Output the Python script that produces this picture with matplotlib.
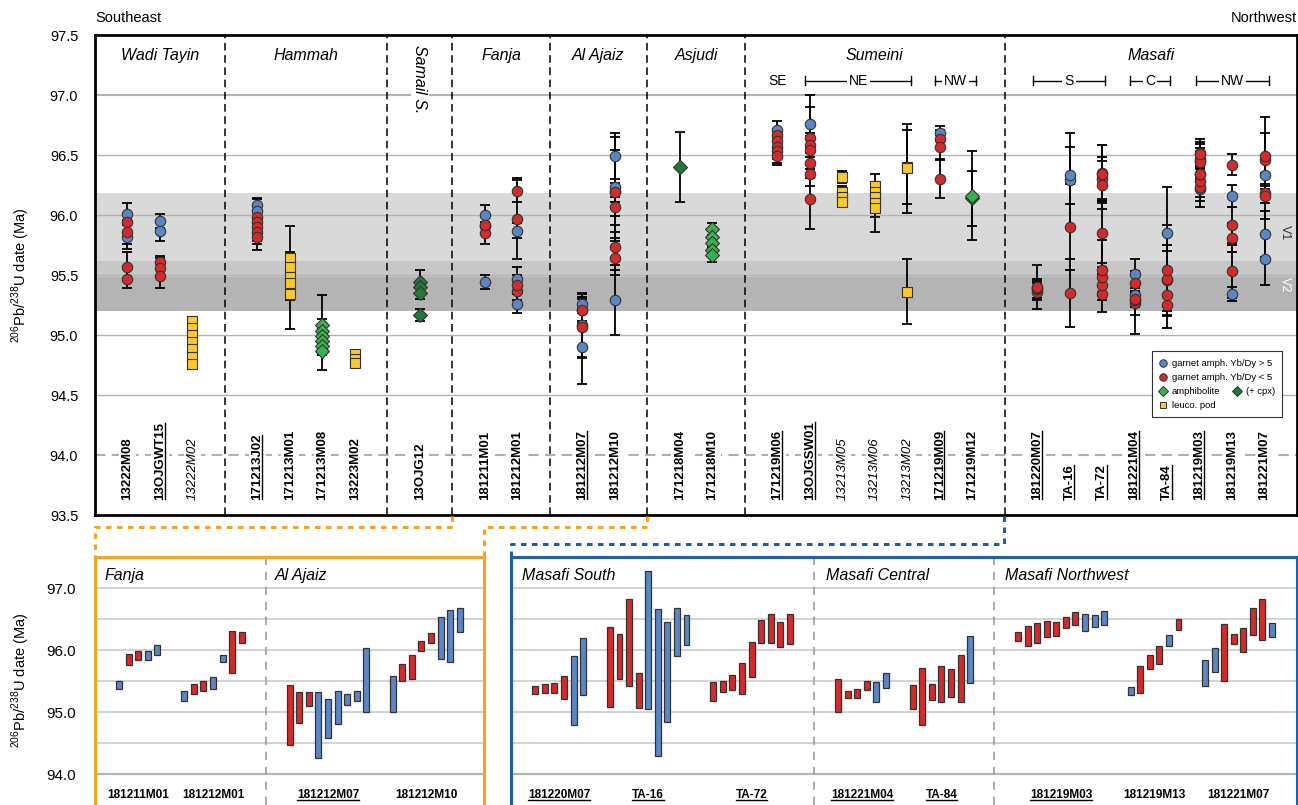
import numpy as np
import matplotlib.pyplot as plt
from matplotlib.lines import Line2D
from matplotlib.patches import Rectangle

plt.rcParams['font.family'] = ['Liberation Sans', 'DejaVu Sans']
plt.rcParams['mathtext.fontset'] = 'custom'
plt.rcParams['mathtext.rm'] = 'Liberation Sans'

# U-Pb dates per sample: (type, date Ma, 2s)
# b = garnet amph. Yb/Dy > 5, r = garnet amph. Yb/Dy < 5,
# g = amphibolite, c = amphibolite (+ cpx), y = leuco. pod
a_13222M08 = [("b", 96.01, 0.09), ("r", 95.94, 0.08), ("r", 95.86, 0.10),
              ("b", 95.82, 0.10), ("r", 95.57, 0.12), ("r", 95.47, 0.08)]
a_13OJGWT15 = [("b", 95.95, 0.06), ("b", 95.87, 0.09), ("r", 95.61, 0.05),
               ("r", 95.56, 0.08), ("r", 95.49, 0.10)]
a_13222M02 = [("y", 95.12, 0.03), ("y", 95.06, 0.03), ("y", 95.00, 0.03),
              ("y", 94.94, 0.03), ("y", 94.88, 0.04), ("y", 94.82, 0.04),
              ("y", 94.76, 0.04)]
a_171213J02 = [("b", 96.08, 0.06), ("b", 96.03, 0.10), ("r", 95.98, 0.10),
               ("r", 95.94, 0.10), ("r", 95.90, 0.12), ("r", 95.86, 0.10),
               ("r", 95.82, 0.11)]
a_171213M01 = [("y", 95.64, 0.05), ("y", 95.57, 0.05), ("y", 95.48, 0.43),
               ("y", 95.43, 0.05), ("y", 95.34, 0.05)]
a_171213M08 = [("g", 95.08, 0.25), ("g", 95.03, 0.10), ("g", 94.99, 0.08),
               ("g", 94.95, 0.10), ("g", 94.91, 0.08), ("g", 94.87, 0.16)]
a_13223M02 = [("y", 94.84, 0.03), ("y", 94.80, 0.04), ("y", 94.77, 0.04)]
a_13OJG12 = [("c", 95.44, 0.10), ("c", 95.40, 0.05), ("c", 95.35, 0.05),
             ("c", 95.17, 0.05)]
a_181211M01 = [("b", 95.44, 0.06), ("r", 95.85, 0.09), ("r", 95.92, 0.07),
               ("b", 95.91, 0.07), ("b", 96.00, 0.08)]
a_181212M01 = [("b", 95.26, 0.08), ("r", 95.37, 0.08), ("r", 95.42, 0.08),
               ("b", 95.47, 0.10), ("b", 95.87, 0.06), ("r", 95.97, 0.34),
               ("r", 96.20, 0.09)]
a_181212M07 = [("r", 94.96, 0.48), ("r", 95.07, 0.25), ("r", 95.21, 0.11),
               ("b", 94.80, 0.53), ("b", 94.90, 0.31), ("b", 95.08, 0.27),
               ("b", 95.21, 0.09), ("b", 95.26, 0.08), ("b", 95.52, 0.52)]
a_181212M10 = [("b", 95.29, 0.29), ("r", 95.64, 0.14), ("r", 95.73, 0.19),
               ("r", 96.07, 0.08), ("r", 96.19, 0.08), ("b", 96.20, 0.34),
               ("b", 96.23, 0.42), ("b", 96.49, 0.19)]
a_171218M04 = [("c", 96.40, 0.29)]
a_171218M10 = [("g", 95.88, 0.05), ("g", 95.82, 0.05), ("g", 95.77, 0.05),
               ("g", 95.71, 0.05), ("g", 95.67, 0.06)]
a_171219M06 = [("b", 96.71, 0.07), ("r", 96.67, 0.05), ("r", 96.62, 0.08),
               ("r", 96.57, 0.10), ("r", 96.53, 0.10), ("r", 96.49, 0.07)]
a_13OJGSW01 = [("b", 96.76, 0.24), ("r", 96.64, 0.26), ("r", 96.58, 0.10),
               ("r", 96.54, 0.12), ("r", 96.43, 0.12), ("r", 96.34, 0.10),
               ("r", 96.13, 0.25)]
a_13213M05 = [("y", 96.32, 0.05), ("y", 96.19, 0.05), ("y", 96.15, 0.05),
              ("y", 96.11, 0.04)]
a_13213M06 = [("y", 96.24, 0.10), ("y", 96.19, 0.08), ("y", 96.15, 0.10),
              ("y", 96.10, 0.12), ("y", 96.06, 0.20)]
a_13213M02 = [("y", 96.40, 0.31), ("y", 96.39, 0.37), ("y", 95.36, 0.27)]
a_171219M09 = [("b", 96.68, 0.06), ("r", 96.63, 0.08), ("r", 96.57, 0.10),
               ("r", 96.30, 0.16)]
a_171219M12 = [("c", 96.14, 0.23), ("g", 96.16, 0.37)]
a_181220M07 = [("r", 95.36, 0.07), ("r", 95.38, 0.07), ("r", 95.39, 0.08),
               ("r", 95.40, 0.18), ("b", 95.35, 0.55), ("b", 95.74, 0.46)]
a_TA16 = [("r", 95.73, 0.64), ("r", 95.90, 0.36), ("r", 96.12, 0.70),
          ("r", 95.35, 0.28), ("b", 96.16, 1.11), ("b", 95.48, 1.18),
          ("b", 95.65, 0.80), ("b", 96.29, 0.39), ("b", 96.33, 0.24)]
a_TA72 = [("r", 95.34, 0.15), ("r", 95.42, 0.09), ("r", 95.48, 0.12),
          ("r", 95.54, 0.25), ("r", 95.85, 0.28), ("r", 96.30, 0.18),
          ("r", 96.35, 0.23), ("r", 96.25, 0.20), ("r", 96.34, 0.24)]
a_181221M04 = [("r", 95.27, 0.26), ("r", 95.29, 0.06), ("r", 95.30, 0.07),
               ("r", 95.43, 0.07), ("b", 95.33, 0.16), ("b", 95.51, 0.12)]
a_TA84 = [("r", 95.25, 0.19), ("r", 95.25, 0.46), ("r", 95.33, 0.13),
          ("r", 95.46, 0.29), ("r", 95.47, 0.23), ("r", 95.54, 0.38),
          ("b", 95.85, 0.38)]
a_181219M03 = [("r", 96.22, 0.07), ("r", 96.23, 0.16), ("r", 96.28, 0.16),
               ("r", 96.34, 0.13), ("r", 96.34, 0.11), ("r", 96.44, 0.09),
               ("r", 96.51, 0.10), ("b", 96.45, 0.14), ("b", 96.47, 0.09),
               ("b", 96.52, 0.11)]
a_181219M13 = [("b", 95.34, 0.06), ("r", 95.53, 0.22), ("r", 95.81, 0.12),
               ("r", 95.92, 0.15), ("b", 96.16, 0.09), ("r", 96.42, 0.09)]
a_181221M07 = [("b", 95.63, 0.21), ("b", 95.84, 0.19), ("r", 95.96, 0.46),
               ("r", 96.18, 0.08), ("r", 96.16, 0.19), ("r", 96.46, 0.22),
               ("r", 96.49, 0.33), ("b", 96.33, 0.11)]

analyses = {
    "13222M08": a_13222M08, "13OJGWT15": a_13OJGWT15, "13222M02": a_13222M02,
    "171213J02": a_171213J02, "171213M01": a_171213M01, "171213M08": a_171213M08,
    "13223M02": a_13223M02, "13OJG12": a_13OJG12, "181211M01": a_181211M01,
    "181212M01": a_181212M01, "181212M07": a_181212M07, "181212M10": a_181212M10,
    "171218M04": a_171218M04, "171218M10": a_171218M10, "171219M06": a_171219M06,
    "13OJGSW01": a_13OJGSW01, "13213M05": a_13213M05, "13213M06": a_13213M06,
    "13213M02": a_13213M02, "171219M09": a_171219M09, "171219M12": a_171219M12,
    "181220M07": a_181220M07, "TA-16": a_TA16, "TA-72": a_TA72,
    "181221M04": a_181221M04, "TA-84": a_TA84, "181219M03": a_181219M03,
    "181219M13": a_181219M13, "181221M07": a_181221M07,
}

regions = ["Wadi Tayin", "Hammah", "Samail S.", "Fanja", "Al Ajaiz",
           "Asjudi", "Sumeini", "Masafi"]
region_samples = [
    ["13222M08", "13OJGWT15", "13222M02"],
    ["171213J02", "171213M01", "171213M08", "13223M02"],
    ["13OJG12"],
    ["181211M01", "181212M01"],
    ["181212M07", "181212M10"],
    ["171218M04", "171218M10"],
    ["171219M06", "13OJGSW01", "13213M05", "13213M06", "13213M02",
     "171219M09", "171219M12"],
    ["181220M07", "TA-16", "TA-72", "181221M04", "TA-84", "181219M03",
     "181219M13", "181221M07"],
]
underlined = {"13OJGWT15", "171213J02", "181212M07", "171219M06", "13OJGSW01",
              "171219M09", "181220M07", "TA-16", "TA-72", "181221M04", "TA-84",
              "181219M03"}
italic_samples = {"13222M02", "13213M05", "13213M06", "13213M02"}

# volcanic phases V1 / V2 (Ma)
v1_band = (95.48, 96.18)
v2_band = (95.20, 95.62)
max_2s_main = 0.45   # analyses shown in the overview panel

orange_samples = ["181211M01", "181212M01", "181212M07", "181212M10"]
blue_samples = ["181220M07", "TA-16", "TA-72", "181221M04", "TA-84",
                "181219M03", "181219M13", "181221M07"]

# ---------------------------------------------------------------------------
W, H = 1298, 805
fig = plt.figure(figsize=(W / 100, H / 100), dpi=100)


def rect(x0, y0, x1, y1):
    return [x0 / W, 1 - y1 / H, (x1 - x0) / W, (y1 - y0) / H]


def fxy(px, py):
    return px / W, 1 - py / H


styles = {
    "b": dict(marker="o", mfc="#5b86c6", ms=7.5, zorder=5),
    "r": dict(marker="o", mfc="#d42a2a", ms=7.5, zorder=6),
    "g": dict(marker="D", mfc="#36b34a", ms=6.8, zorder=6),
    "c": dict(marker="D", mfc="#1f7a38", ms=6.8, zorder=5),
    "y": dict(marker="s", mfc="#fdc82b", ms=6.8, zorder=5),
}
bar_colors = {"b": "#5b86c6", "r": "#d42a2a"}
edge = "#333333"
orange = "#f7a226"
blue = "#1c5fab"

# ---------------------------------------------------------------- main panel
ax = fig.add_axes(rect(95, 35, 1297, 515))
ax.set_xlim(-1, 36)
ax.set_ylim(93.5, 97.5)

ax.axhspan(*v2_band, color="#b4b4b4", lw=0, zorder=0)
ax.axhspan(*v1_band, color="#cecece", alpha=0.77, lw=0, zorder=0.1)
for yv in np.arange(94.5, 97.01, 0.5):
    ax.axhline(yv, color="#b3b3b3", lw=1.5 if yv == 97.0 else 1.0, zorder=0.5)
ax.axhline(94.0, color="#b0b0b0", lw=1.5, ls=(0, (5, 3)), zorder=0.5)

ax.set_yticks(np.arange(93.5, 97.51, 0.5))
ax.set_yticklabels([f"{v:.1f}" for v in np.arange(93.5, 97.51, 0.5)], fontsize=10.5)
ax.set_xticks([])
ax.tick_params(axis="y", length=0, pad=12)
for sp in ax.spines.values():
    sp.set_linewidth(2)

slot_of = {}
slot = 0
sample_texts = []
for i, (reg, names) in enumerate(zip(regions, region_samples)):
    start = slot
    for name in names:
        slot_of[name] = slot
        slot += 1
    centre = (start + slot - 1) / 2
    if reg == "Samail S.":
        ax.text(centre, 97.42, reg, rotation=-90, style="italic", fontsize=11.5,
                ha="center", va="top",
                bbox=dict(fc="white", ec="none", pad=1), zorder=7)
    else:
        ax.text(centre, 97.33, reg, style="italic", fontsize=11.5,
                ha="center", va="center", zorder=7)
    if i < len(regions) - 1:
        ax.axvline(slot, color="k", lw=1.1, ls=(0, (5, 3)), zorder=1)
        slot += 1

for name, x in slot_of.items():
    weight = "normal" if name in italic_samples else "bold"
    style = "italic" if name in italic_samples else "normal"
    t = ax.text(x, 93.625, name, rotation=90, ha="center", va="bottom",
                fontsize=9.5, fontweight=weight, style=style,
                bbox=dict(fc="white", ec="none", pad=2), zorder=4)
    if name in underlined:
        sample_texts.append((t, "v"))

for name, x in slot_of.items():
    for kind, d, e in analyses[name]:
        if e > max_2s_main:
            continue
        ax.errorbar(x, d, yerr=e, fmt="none", ecolor="k", elinewidth=1.3,
                    capsize=3.5, capthick=1.3, zorder=3)
        st = styles[kind]
        ax.plot(x, d, ls="none", marker=st["marker"], mfc=st["mfc"], mec=edge,
                mew=0.8, ms=st["ms"], zorder=st["zorder"])

# sub-area brackets in Sumeini and Masafi
ax.text(20, 97.12, "SE", ha="center", va="center", fontsize=10)
brackets = [("NE", 20.86, 24.13), ("NW", 24.86, 26.12), ("S", 27.87, 30.1),
            ("C", 30.87, 32.1), ("NW", 32.9, 35.13)]
for lab, x0, x1 in brackets:
    ax.plot([x0, x1], [97.12, 97.12], color="k", lw=1)
    for xe in (x0, x1):
        ax.plot([xe, xe], [97.08, 97.16], color="k", lw=1)
    ax.text((x0 + x1) / 2, 97.12, lab, ha="center", va="center", fontsize=10,
            bbox=dict(fc="white", ec="none", pad=1.5))

ax.text(35.62, 95.85, "V1", rotation=-90, ha="center", va="center",
        fontsize=9, color="#333333")
ax.text(35.62, 95.42, "V2", rotation=-90, ha="center", va="center",
        fontsize=9, color="white")

# legend
def axf(px, py):
    return (px - 95) / 1202, (515 - py) / 480

lx0, ly0 = axf(1152, 417)
lx1, ly1 = axf(1282, 351)
ax.add_patch(Rectangle((lx0, ly0), lx1 - lx0, ly1 - ly0, transform=ax.transAxes,
                       fc="white", ec="#333333", lw=0.8, zorder=8))
legend_rows = [
    [("b", "garnet amph. Yb/Dy > 5", 1163)],
    [("r", "garnet amph. Yb/Dy < 5", 1163)],
    [("g", "amphibolite", 1163), ("c", "(+ cpx)", 1237)],
    [("y", "leuco. pod", 1163)],
]
for row, py in zip(legend_rows, [363, 377, 391, 405]):
    for kind, lab, px in row:
        mx, my = axf(px, py)
        st = styles[kind]
        ax.plot(mx, my, transform=ax.transAxes, ls="none", marker=st["marker"],
                mfc=st["mfc"], mec=edge, mew=0.7, ms=st["ms"] * 0.72, zorder=9,
                clip_on=False)
        tx, _ = axf(px + 9, py)
        ax.text(tx, my, lab, transform=ax.transAxes, fontsize=6.8,
                ha="left", va="center", zorder=9)

fig.text(*fxy(95, 18), "Southeast", ha="left", va="center", fontsize=10.5)
fig.text(*fxy(1297, 18), "Northwest", ha="right", va="center", fontsize=10.5)
ylab = r"$^{206}$Pb/$^{238}$U date (Ma)"
fig.text(*fxy(21, 275), ylab, rotation=90, ha="center", va="center", fontsize=10.5)

# ------------------------------------------------------------- detail panels
SLOT = 9.57


def detail_panel(x0, x1, color, names, starts, dividers, titles, ticklabels):
    bx = fig.add_axes(rect(x0, 557, x1, 805.5))
    bx.set_xlim(0, (x1 - x0) / SLOT)
    bx.set_ylim(93.5, 97.5)
    for side, sp in bx.spines.items():
        sp.set_color(color)
        sp.set_linewidth(2.2)
    bx.spines["bottom"].set_visible(False)
    for yv in np.arange(94.5, 97.01, 0.5):
        bx.axhline(yv, color="#c8c8c8", lw=1.1, zorder=0)
    bx.axhline(94.0, color="#b5b5b5", lw=1.6, zorder=0)
    bx.set_xticks([])
    bx.set_yticks([94, 95, 96, 97])
    if ticklabels:
        bx.set_yticklabels(["94.0", "95.0", "96.0", "97.0"], fontsize=11)
        bx.tick_params(axis="y", length=0, pad=14)
    else:
        bx.set_yticklabels([])
        bx.tick_params(axis="y", length=0)
    for d in dividers:
        bx.axvline(d, color="#a0a0a0", lw=1.2, ls=(0, (5, 4)), zorder=0)
    for tx, lab in titles:
        bx.text(tx, 97.21, lab, style="italic", fontsize=11.5,
                ha="left", va="center")
    out = []
    for name, s0 in zip(names, starts):
        rows = analyses[name]
        for k, (kind, d, e) in enumerate(rows):
            bx.bar(s0 + k, 2 * e, bottom=d - e, width=0.62,
                   color=bar_colors[kind], edgecolor=edge, lw=0.9, zorder=3)
        t = bx.text(s0 + (len(rows) - 1) / 2, 93.67, name, ha="center",
                    va="center", fontsize=8.5, fontweight="bold")
        if name in underlined:
            out.append((t, "h"))
    return bx, out


bx1, u1 = detail_panel(95, 484, orange, orange_samples,
                       [2.51, 9.33, 20.35, 31.11], [17.84],
                       [(1.0, "Fanja"), (18.8, "Al Ajaiz")], True)
bx2, u2 = detail_panel(511, 1297, blue, blue_samples,
                       [2.54, 10.34, 21.14, 34.17, 41.98, 52.98, 64.75, 72.52],
                       [31.66, 50.5],
                       [(1.2, "Masafi South"), (32.9, "Masafi Central"),
                        (51.6, "Masafi Northwest")], False)
sample_texts += u1 + u2

fig.text(*fxy(21, 680), ylab, rotation=90, ha="center", va="center", fontsize=10.5)

# dashed connectors from the overview to the detail panels
paths = [
    (orange, [(452, 516), (452, 527), (95, 527), (95, 557)]),
    (orange, [(647, 516), (647, 527), (484, 527), (484, 557)]),
    (blue, [(1004, 516), (1004, 544), (511, 544), (511, 557)]),
]
for col, pts in paths:
    xs, ys = zip(*[fxy(px, py) for px, py in pts])
    fig.add_artist(Line2D(xs, ys, color=col, lw=2.2, ls=(0, (1.8, 1.8))))

# underline the labels of samples with trace-element data
fig.canvas.draw()
renderer = fig.canvas.get_renderer()
inv = fig.transFigure.inverted()
for t, orient in sample_texts:
    bb = t.get_window_extent(renderer)
    if orient == "v":
        x = bb.x1 - 1.2
        p = inv.transform([(x, bb.y0 + 1), (x, bb.y1 - 1)])
    else:
        y = bb.y0 + 1.2
        p = inv.transform([(bb.x0, y), (bb.x1, y)])
    fig.add_artist(Line2D(p[:, 0], p[:, 1], color="k", lw=1.0))

fig.savefig("out.png", dpi=100)
